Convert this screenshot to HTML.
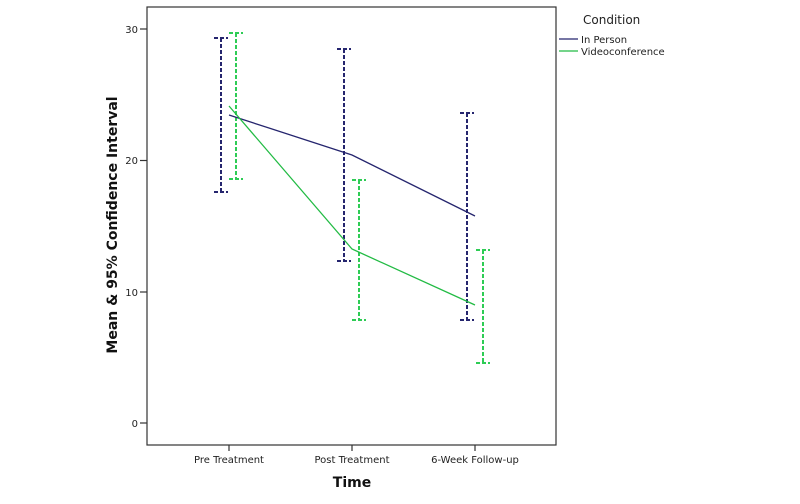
<!DOCTYPE html>
<html><head><meta charset="utf-8"><style>body{margin:0;background:#fff}svg{display:block}</style></head><body>
<svg width="800" height="504" xmlns="http://www.w3.org/2000/svg" font-family="'DejaVu Sans', 'Liberation Sans', sans-serif">
<rect x="147" y="7" width="409" height="438" fill="none" stroke="#333" stroke-width="1.2"/>
<g stroke="#333" stroke-width="1.2">
<line x1="140" y1="29" x2="147" y2="29"/><line x1="140" y1="160.5" x2="147" y2="160.5"/><line x1="140" y1="292" x2="147" y2="292"/><line x1="140" y1="423" x2="147" y2="423"/>
<line x1="229" y1="445" x2="229" y2="451"/><line x1="352" y1="445" x2="352" y2="451"/><line x1="475" y1="445" x2="475" y2="451"/>
</g>
<g font-size="10" fill="#222" text-anchor="end">
<text x="138" y="33">30</text><text x="138" y="164">20</text><text x="138" y="296">10</text><text x="138" y="427">0</text>
</g>
<g font-size="10" fill="#222" text-anchor="middle">
<text x="229" y="463">Pre Treatment</text><text x="352" y="463">Post Treatment</text><text x="475" y="463">6-Week Follow-up</text>
</g>
<text x="352" y="487" font-size="14" font-weight="bold" text-anchor="middle" fill="#111">Time</text>
<text transform="translate(117,225) rotate(-90)" font-size="14" font-weight="bold" text-anchor="middle" fill="#111">Mean &amp; 95% Confidence Interval</text>
<g stroke="#25256e" stroke-width="2" stroke-dasharray="4,2" fill="none">
<path d="M221 38V192M214 38H228M214 192H228"/>
<path d="M344 49V261M337 49H351M337 261H351"/>
<path d="M467 113V320M460 113H474M460 320H474"/>
</g>
<g stroke="#2ecc55" stroke-width="2" stroke-dasharray="4,2" fill="none">
<path d="M236 33V179M229 33H243M229 179H243"/>
<path d="M359 180V320M352 180H366M352 320H366"/>
<path d="M483 250V363M476 250H490M476 363H490"/>
</g>
<polyline points="229,115 352,155 475,216" fill="none" stroke="#25256e" stroke-width="1.3"/>
<polyline points="229,106 352,249 475,305" fill="none" stroke="#22bb44" stroke-width="1.3"/>
<text x="583" y="24" font-size="12" fill="#222">Condition</text>
<line x1="559" y1="39" x2="578" y2="39" stroke="#25256e" stroke-width="1.3"/>
<line x1="559" y1="51" x2="578" y2="51" stroke="#22bb44" stroke-width="1.3"/>
<text x="581" y="43" font-size="10" fill="#222">In Person</text>
<text x="581" y="55" font-size="10" fill="#222">Videoconference</text>
</svg>
</body></html>
